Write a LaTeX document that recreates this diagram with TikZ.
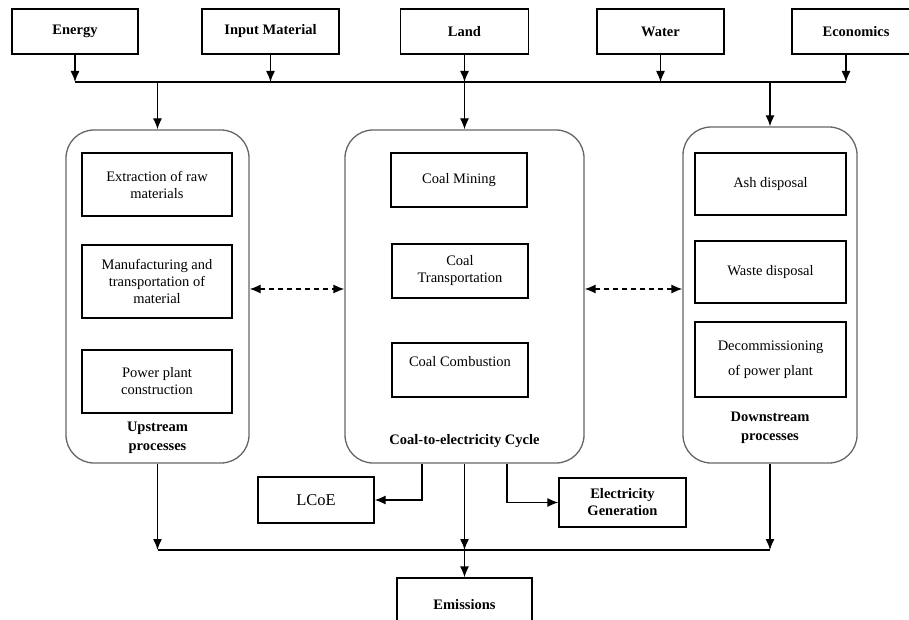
\documentclass[tikz,border=0pt]{standalone}
\usepackage{fontspec}
\setmainfont{Liberation Serif}
\usetikzlibrary{arrows.meta}

\begin{document}
\begin{tikzpicture}[x=1pt,y=-1pt,->,>={Latex[length=11pt,width=9pt]},line width=1.3pt,
  every node/.style={font=\fontsize{14.5}{17}\selectfont,align=center},
  input/.style={draw,minimum height=45pt,font=\fontsize{14.5}{17}\selectfont\bfseries},
  stage/.style={draw=black!60,rounded corners=28pt},
  unit/.style={draw,minimum width=150pt},
  caption/.style={font=\fontsize{14.5}{19}\selectfont\bfseries}]
\useasboundingbox (0,0) rectangle (909,620);
% inputs
\node[input,minimum width=126pt] (energy) at (75,31.5) {Energy};
\node[input,minimum width=137pt] (material) at (270.5,31.5) {Input Material};
\node[input,minimum width=128pt] (land) at (464.5,31.5) {Land};
\node[input,minimum width=127pt] (water) at (660.5,31.5) {Water};
\node[input,minimum width=128pt] (econ) at (856,31.5) {Economics};
\coordinate (topbus) at (0,82);
\coordinate (link) at (0,289);
\coordinate (botbus) at (0,550);
% stages
\node[stage,minimum width=183pt,minimum height=333pt] (up) at (157.5,296.5) {};
\node[stage,minimum width=239pt,minimum height=333pt] (coal) at (464.5,296.5) {};
\node[stage,minimum width=174pt,minimum height=336pt] (down) at (770,295) {};
\node[unit,minimum height=63pt] (raw) at (157,184.5) {Extraction of raw\\materials};
\node[unit,minimum height=73pt] (manu) at (157,281.5) {Manufacturing and\\transportation of\\material};
\node[unit,minimum height=63pt] (build) at (157,381.5) {Power plant\\construction};
\node[caption] (upcap) at (157.5,437.5) {Upstream\\processes};
\node[unit,minimum width=136pt,minimum height=54pt] (mining) at (459,180) {Coal Mining};
\node[unit,minimum width=136pt,minimum height=54pt] (transport) at (460,271) {Coal\\Transportation};
\node[unit,minimum width=136pt,minimum height=54pt] (combust) at (460,370) {Coal Combustion\\\mbox{}};
\node[caption] (coalcap) at (464.5,441) {Coal-to-electricity Cycle};
\node[unit,minimum width=151pt,minimum height=62pt] (ash) at (770.5,184) {Ash disposal};
\node[unit,minimum width=151pt,minimum height=62pt] (waste) at (770.5,272) {Waste disposal};
\node[unit,minimum width=151pt,minimum height=75pt] (decom) at (770.5,359.5) {Decommissioning\\[8pt]of power plant};
\node[caption] (downcap) at (770,427.5) {Downstream\\processes};
% outputs
\node[draw,minimum width=116pt,minimum height=46pt,font=\fontsize{16.5}{19}\selectfont] (lcoe) at (316,500) {LCoE};
\node[input,minimum width=127pt,minimum height=49pt] (elec) at (622.5,502.5) {Electricity\\Generation};
\node[input,minimum width=135pt,minimum height=54pt] (emis) at (464.5,605) {Emissions};
\path (energy.south) edge (energy.south |- topbus)
      (material.south) edge (material.south |- topbus)
      (land.south) edge (land.south |- topbus)
      (water.south) edge (water.south |- topbus)
      ([xshift=-10pt]econ.south) edge ([xshift=-10pt]econ.south |- topbus)
      (up.north |- topbus) edge (up.north)
      (coal.north |- topbus) edge (coal.north)
      (down.north |- topbus) edge (down.north);
\draw[-] (energy.south |- topbus) -- ([xshift=-10pt]econ.south |- topbus);
\draw[<->,dashed,line width=1.3pt,dash pattern=on 5pt off 4pt] (up.east |- link) -- (coal.west |- link);
\draw[<->,dashed,line width=1.3pt,dash pattern=on 5pt off 4pt] (coal.east |- link) -- (down.west |- link);
\draw ([xshift=-42.5pt]coal.south) |- (lcoe.east);
\draw ([xshift=42.5pt]coal.south) |- (elec.west);
\path (up.south) edge (up.south |- botbus)
      (coal.south) edge (coal.south |- botbus)
      (down.south) edge (down.south |- botbus)
      (coal.south |- botbus) edge (emis.north);
\draw[-] (up.south |- botbus) -- (down.south |- botbus);
\end{tikzpicture}
\end{document}
